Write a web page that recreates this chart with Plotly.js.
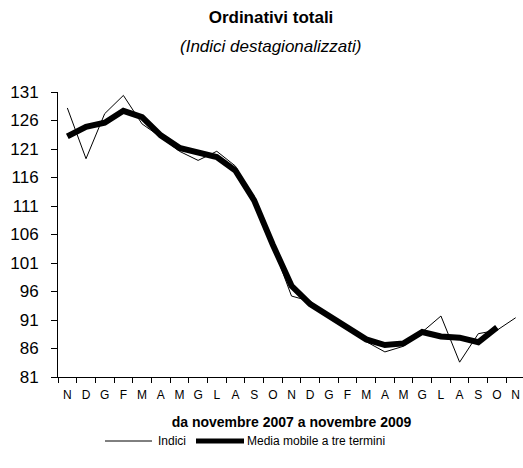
<!DOCTYPE html>
<html>
<head>
<meta charset="utf-8">
<script src="https://cdn.plot.ly/plotly-3.0.1.min.js"></script>
<style>
html, body { margin: 0; padding: 0; overflow: hidden; background: #fff; }
#chart { width: 526px; height: 468px; }
</style>
</head>
<body>
<div id="chart"></div>
<script>
var mesi = ['N','D','G','F','M','A','M','G','L','A','S','O','N','D','G','F','M','A','M','G','L','A','S','O','N'];
var indici = [128.2, 119.3, 127.2, 130.4, 125.4, 123.1, 120.6, 119.0, 120.6, 118.0, 112.0, 104.0, 95.2, 94.3, 91.8, 89.7, 87.2, 85.4, 86.4, 88.9, 91.7, 83.6, 88.6, 89.2, 91.4];
var mediaMobile = [123.2, 124.9, 125.6, 127.7, 126.6, 123.4, 121.2, 120.3, 119.6, 117.2, 112.0, 104.2, 97.0, 93.8, 91.8, 89.7, 87.6, 86.6, 86.9, 88.9, 88.1, 87.9, 87.1, 89.7, null];
var yTicks = [81, 86, 91, 96, 101, 106, 111, 116, 121, 126, 131];

var xIdx = mesi.map(function (m, i) { return i; });
var FONT = '"Liberation Sans Narrow", "Arial Narrow", "Liberation Sans", Arial, sans-serif';

var traces = [
  { x: xIdx, y: indici, type: 'scatter', mode: 'lines', name: 'Indici',
    line: { color: '#000', width: 1 }, showlegend: false, hoverinfo: 'skip' },
  { x: xIdx, y: mediaMobile, type: 'scatter', mode: 'lines', name: 'Media mobile a tre termini',
    line: { color: '#000', width: 6 }, showlegend: false, hoverinfo: 'skip' }
];

var layout = {
  width: 526, height: 468,
  margin: { l: 58, r: 1, t: 92, b: 91 },
  paper_bgcolor: '#fff', plot_bgcolor: '#fff',
  font: { family: FONT, color: '#000' },
  title: { text: '<b>Ordinativi totali</b>', font: { family: FONT, size: 17, color: '#000' },
           xref: 'container', x: 271 / 526, xanchor: 'center', yref: 'container', y: 1 - 17 / 468, yanchor: 'middle' },
  xaxis: {
    type: 'linear', range: [-0.5, 24.5], tickmode: 'array',
    tickvals: xIdx, ticktext: mesi, ticks: '', showgrid: false, zeroline: false,
    showline: true, linecolor: '#000', linewidth: 1, ticklabelstandoff: 7,
    tickfont: { size: 12, family: FONT }, fixedrange: true,
    title: { text: '<b>da novembre 2007 a novembre 2009</b>', font: { size: 14, family: FONT }, standoff: 15 }
  },
  xaxis2: {
    overlaying: 'x', range: [-0.5, 24.5], tickmode: 'array',
    tickvals: xIdx.concat([24]).map(function (v) { return v - 0.5; }),
    ticktext: xIdx.concat([24]).map(function () { return ''; }),
    ticks: 'outside', ticklen: 5, tickcolor: '#000', tickwidth: 1,
    showgrid: false, zeroline: false, showline: false, side: 'bottom', anchor: 'y', fixedrange: true
  },
  yaxis: {
    range: [81, 131], tickmode: 'array', tickvals: yTicks,
    ticks: 'outside', ticklen: 6, tickcolor: '#000', tickwidth: 1,
    showgrid: false, zeroline: false, showline: true, linecolor: '#000', linewidth: 1,
    tickfont: { size: 17, family: FONT }, ticklabelstandoff: 9, fixedrange: true
  },
  annotations: [
    { text: '<i>(Indici destagionalizzati)</i>', xref: 'paper', yref: 'paper',
      x: (270 - 58) / 467, y: (377 - 47) / 285, xanchor: 'center', yanchor: 'middle',
      showarrow: false, font: { size: 17, family: FONT, color: '#000' } },
    { text: 'Indici', xref: 'paper', yref: 'paper', x: (156 - 58) / 467, y: (377 - 441) / 285,
      xanchor: 'left', yanchor: 'middle', showarrow: false, font: { size: 12, family: FONT, color: '#000' } },
    { text: 'Media mobile a tre termini', xref: 'paper', yref: 'paper', x: (245 - 58) / 467, y: (377 - 441) / 285,
      xanchor: 'left', yanchor: 'middle', showarrow: false, font: { size: 12, family: FONT, color: '#000' } }
  ],
  shapes: [
    { type: 'line', xref: 'paper', yref: 'paper', x0: (105 - 58) / 467, x1: (152 - 58) / 467,
      y0: (377 - 441) / 285, y1: (377 - 441) / 285, line: { color: '#000', width: 1 } },
    { type: 'line', xref: 'paper', yref: 'paper', x0: (196 - 58) / 467, x1: (244 - 58) / 467,
      y0: (377 - 441) / 285, y1: (377 - 441) / 285, line: { color: '#000', width: 5 } }
  ]
};

traces.push({ x: [0], y: [null], xaxis: 'x2', yaxis: 'y', type: 'scatter', mode: 'lines', showlegend: false, hoverinfo: 'skip' });

Plotly.newPlot('chart', traces, layout, { displayModeBar: false, staticPlot: true });
</script>
</body>
</html>
